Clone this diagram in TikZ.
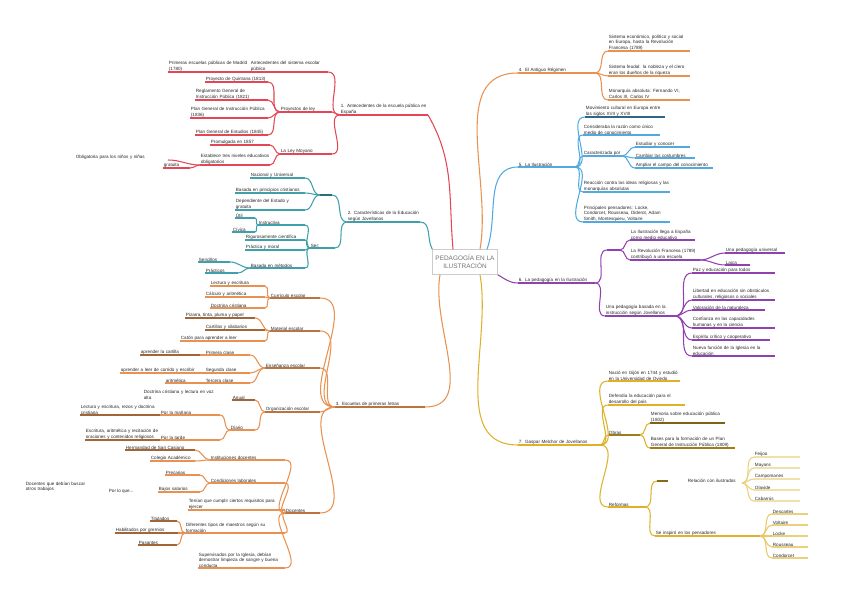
\documentclass[tikz,border=0pt]{standalone}
\usepackage{fontspec}
\setmainfont{Liberation Sans}
\definecolor{cRed}{RGB}{228,70,86}
\definecolor{cTeal}{RGB}{62,160,170}
\definecolor{cOr}{RGB}{232,145,80}
\definecolor{cBlue}{RGB}{80,170,225}
\definecolor{cPur}{RGB}{145,65,175}
\definecolor{cYel}{RGB}{222,178,40}
\hyphenpenalty=10000 \exhyphenpenalty=10000
\newcommand\nd[6]{%
 \coordinate (#1-l) at (#2,#4); \coordinate (#1-r) at (#3,#4);
 \pgfmathsetmacro\mytw{max((#3-#2)*0.853-1,1)}
 \node[lbl,text width=\mytw pt,anchor=south west] (#1) at (#2,#4) {#6};
 \draw[ul,#5] (#1-l) -- (#1-r);}
\newcommand\tx[6]{%
 \coordinate (#1-l) at (#2,#4); \coordinate (#1-r) at (#3,#4);
 \pgfmathsetmacro\mytw{max((#3-#2)*0.853-1,1)}
 \node[lbl,text width=\mytw pt,anchor=south west] (#1) at (#2,#4) {#6};}
\newcommand\cR[3]{\draw[cn,#3] (#1-r) to[out=0,in=180] (#2-l);}
\newcommand\cL[3]{\draw[cn,#3] (#1-l) to[out=180,in=0] (#2-r);}
\begin{document}
\hyphenpenalty=10000 \exhyphenpenalty=10000
\begin{tikzpicture}[x=0.03cm,y=-0.03cm,
 lbl/.style={font=\fontsize{3.9}{4.7}\selectfont,inner sep=0.6pt,align=left,text=black!85},
 ul/.style={line width=0.9pt},
 cn/.style={line width=0.9pt}]
\useasboundingbox (0,0) rectangle (848,599);
\fill[white] (0,0) rectangle (848,599);
% center
\node[draw=black!20,fill=white,text=black!55,minimum width=65*0.853pt,minimum height=25*0.853pt,align=center,font=\fontsize{5.5}{6.5}\selectfont,inner sep=1pt] (c) at (465,262) {PEDAGOGÍA EN LA\\ILUSTRACIÓN};
% ---------- RED
\nd{m1}{340}{428}{115}{cRed}{1. Antecedentes de la escuela pública en España}
\draw[cn,cRed] ([xshift=-12*0.853pt]c.north) to[out=95,in=-60] (m1-r);
\nd{r1}{250}{328}{72}{cRed}{Antecedentes del sistema escolar público}
\nd{r1a}{168}{250}{72}{cRed}{Primeras escuelas públicas de Madrid (1780)}
\nd{r2}{280}{332}{112}{cRed}{Proyectos de ley}
\nd{r2a}{205}{268}{82}{cRed}{Proyecto de Quintana (1813)}
\nd{r2b}{195}{268}{100}{cRed}{Reglamento General de Instrucción Pública (1821)}
\nd{r2c}{190}{268}{118}{cRed}{Plan General de Instrucción Pública (1836)}
\nd{r2d}{195}{268}{135}{cRed}{Plan General de Estudios (1845)}
\nd{r3}{280}{332}{154}{cRed}{La Ley Moyano}
\nd{r3a}{210}{270}{145}{cRed}{Promulgada en 1857}
\nd{r3b}{200}{270}{165}{cRed}{Establece tres niveles educativos obligatorios}
\tx{r3c}{75}{168}{160}{cRed}{Obligatoria para los niños y niñas}
\nd{r3d}{163}{190}{168}{cRed}{gratuita}
\foreach \k in {r1,r2,r3}{\cL{m1}{\k}{cRed}}
\cL{r1}{r1a}{cRed}
\foreach \k in {r2a,r2b,r2c,r2d}{\cL{r2}{\k}{cRed}}
\foreach \k in {r3a,r3b}{\cL{r3}{\k}{cRed}}
\foreach \k in {r3c,r3d}{\cL{r3b}{\k}{cRed}}
% ---------- TEAL
\nd{m2}{347}{420}{222}{cTeal}{2. Características de la Educación según Jovellanos}
\draw[cn,cTeal] (c.north west) to[out=120,in=0] (m2-r);
\nd{t1}{320}{332}{195}{cTeal!70!black}{}
\nd{t1a}{250}{305}{178}{cTeal}{Nacional y Universal}
\nd{t1b}{235}{305}{193}{cTeal}{Basada en principios cristianos}
\nd{t1c}{235}{305}{210}{cTeal}{Dependiente del Estado y gratuita}
\nd{t2}{310}{335}{248}{cTeal}{Ser:}
\nd{t2a}{258}{305}{225}{cTeal}{Instructiva}
\nd{t2a1}{235}{255}{218}{cTeal}{Útil}
\nd{t2a2}{232}{255}{232}{cTeal}{Cívica}
\nd{t2b}{245}{305}{240}{cTeal}{Rigurosamente científica}
\nd{t2c}{245}{305}{250}{cTeal}{Práctica y moral}
\nd{t2d}{250}{305}{268}{cTeal}{Basada en métodos}
\nd{t2d1}{198}{230}{262}{cTeal}{Sencillos}
\nd{t2d2}{205}{238}{273}{cTeal}{Prácticos}
\foreach \k in {t1,t2}{\cL{m2}{\k}{cTeal}}
\foreach \k in {t1a,t1b,t1c}{\cL{t1}{\k}{cTeal}}
\foreach \k in {t2a,t2b,t2c,t2d}{\cL{t2}{\k}{cTeal}}
\foreach \k in {t2a1,t2a2}{\cL{t2a}{\k}{cTeal}}
\foreach \k in {t2d1,t2d2}{\cL{t2d}{\k}{cTeal}}
% ---------- ORANGE LEFT
\nd{m3}{335}{425}{407}{cOr!80!black}{3. Escuelas de primeras letras}
\draw[cn,cOr] ([xshift=-25*0.853pt]c.south) to[out=-100,in=0] (m3-r);
\nd{o1}{270}{320}{298}{cOr!80!black}{Currículo escolar}
\nd{o1a}{210}{265}{286}{cOr}{Lectura y escritura}
\nd{o1b}{205}{265}{297}{cOr}{Cálculo y aritmética}
\nd{o1c}{210}{265}{308}{cOr}{Doctrina cristiana}
\nd{o2}{270}{320}{331}{cOr!80!black}{Material escolar}
\nd{o2a}{185}{255}{318}{cOr!70!black}{Pizarra, tinta, pluma y papel}
\nd{o2b}{205}{265}{330}{cOr!70!black}{Cartillas y silabarios}
\nd{o2c}{180}{265}{341}{cOr}{Catón para aprender a leer}
\nd{o3}{265}{320}{368}{cOr!80!black}{Enseñanza escolar}
\nd{o3a}{205}{250}{355}{cOr}{Primera clase}
\nd{o3a1}{140}{200}{355}{cOr!70!black}{aprender la cartilla}
\nd{o3b}{205}{250}{373}{cOr}{Segunda clase}
\nd{o3b1}{120}{200}{373}{cOr}{aprender a leer de corrido y escribir}
\nd{o3c}{205}{250}{383}{cOr}{Tercera clase}
\nd{o3c1}{165}{200}{383}{cOr}{aritmética}
\tx{o3t}{143}{215}{400}{cOr}{Doctrina cristiana y lectura en voz alta}
\nd{o4}{265}{320}{412}{cOr!80!black}{Organización escolar}
\nd{o4a}{232}{255}{400}{cOr!70!black}{Anual}
\nd{o4b}{230}{255}{430}{cOr}{Diario}
\nd{o4b1}{160}{220}{415}{cOr}{Por la mañana}
\nd{o4b1a}{80}{160}{415}{cOr!70!black}{Lectura y escritura, rezos y doctrina cristiana}
\nd{o4b2}{160}{220}{440}{cOr}{Por la tarde}
\nd{o4b2a}{85}{165}{440}{cOr!70!black}{Escritura, aritmética y recitación de oraciones y contenidos religiosos}
\nd{o5}{285}{320}{513}{cOr!80!black}{Docentes}
\nd{o5a}{210}{285}{460}{cOr}{Instituciones docentes}
\nd{o5a1}{125}{195}{450}{cOr!70!black}{Hermandad de San Casiano}
\nd{o5a2}{150}{195}{461}{cOr}{Colegio Académico}
\nd{o5b}{210}{285}{483}{cOr}{Condiciones laborales}
\nd{o5b1}{165}{200}{475}{cOr}{Precarias}
\nd{o5b2}{158}{200}{492}{cOr}{Bajos salarios}
\node[lbl,anchor=west] (o5t1) at (108,491) {Por lo que...};
\node[lbl,anchor=west,text width=55pt] (o5t2) at (25,487) {Docentes que debían buscar otros trabajos};
\nd{o5c}{188}{285}{510}{cOr}{Tenían que cumplir ciertos requisitos para ejercer}
\nd{o5d}{185}{285}{533}{cOr}{Diferentes tipos de maestros según su formación}
\nd{o5d1}{150}{177}{521}{cOr!70!black}{Titulados}
\nd{o5d2}{115}{178}{533}{cOr!70!black}{Habilitados por gremios}
\nd{o5d3}{138}{177}{545}{cOr!70!black}{Pasantes}
\nd{o5e}{198}{285}{568}{cOr}{Supervisados por la Iglesia, debían demostrar limpieza de sangre y buena conducta}
\foreach \k in {o1,o2,o3,o4,o5}{\cL{m3}{\k}{cOr}}
\foreach \k in {o1a,o1b,o1c}{\cL{o1}{\k}{cOr}}
\foreach \k in {o2a,o2b,o2c}{\cL{o2}{\k}{cOr}}
\foreach \k in {o3a,o3b,o3c}{\cL{o3}{\k}{cOr}}
\cL{o3a}{o3a1}{cOr}\cL{o3b}{o3b1}{cOr}\cL{o3c}{o3c1}{cOr}
\foreach \k in {o4a,o4b}{\cL{o4}{\k}{cOr}}
\foreach \k in {o4b1,o4b2}{\cL{o4b}{\k}{cOr}}
\cL{o4b1}{o4b1a}{cOr}\cL{o4b2}{o4b2a}{cOr}
\foreach \k in {o5a,o5b,o5c,o5d,o5e}{\cL{o5}{\k}{cOr}}
\foreach \k in {o5a1,o5a2}{\cL{o5a}{\k}{cOr}}
\foreach \k in {o5b1,o5b2}{\cL{o5b}{\k}{cOr}}
\foreach \k in {o5d1,o5d2,o5d3}{\cL{o5d}{\k}{cOr}}
% ---------- ORANGE RIGHT
\nd{m4}{518}{595}{73}{cOr}{4. El Antiguo Régimen}
\draw[cn,cOr] ([xshift=15*0.853pt]c.north) to[out=80,in=180] (m4-l);
\nd{a1}{608}{690}{51}{cOr}{Sistema económico, político y social en Europa, hasta la Revolución Francesa (1789)}
\nd{a2}{608}{690}{76}{cOr}{Sistema feudal: la nobleza y el clero eran los dueños de la riqueza}
\nd{a3}{608}{690}{100}{cOr}{Monarquía absoluta: Fernando VI, Carlos III, Carlos IV}
\foreach \k in {a1,a2,a3}{\cR{m4}{\k}{cOr}}
% ---------- BLUE
\nd{m5}{518}{575}{167}{cBlue}{5. La Ilustración}
\draw[cn,cBlue] ([xshift=22*0.853pt]c.north) to[out=70,in=180] (m5-l);
\nd{b1}{585}{665}{117}{cBlue!60!black}{Movimiento cultural en Europa entre los siglos XVII y XVIII}
\nd{b2}{583}{660}{135}{cBlue}{Consideraba la razón como único medio de conocimiento}
\nd{b3}{583}{622}{156}{cBlue}{Caracterizada por}
\nd{b3a}{635}{690}{147}{cBlue}{Estudiar y conocer}
\nd{b3b}{635}{695}{158}{cBlue}{Cambiar las costumbres}
\nd{b3c}{635}{713}{168}{cBlue}{Ampliar el campo del conocimiento}
\nd{b4}{583}{670}{192}{cBlue}{Reacción contra las ideas religiosas y las monarquías absolutas}
\nd{b5}{583}{670}{222}{cBlue}{Principales pensadores: Locke, Condorcet, Rousseau, Diderot, Adam Smith, Montesquieu, Voltaire}
\foreach \k in {b1,b2,b3,b4,b5}{\cR{m5}{\k}{cBlue}}
\foreach \k in {b3a,b3b,b3c}{\cR{b3}{\k}{cBlue}}
% ---------- PURPLE
\nd{m6}{518}{595}{283}{cPur}{6. La pedagogía en la Ilustración}
\draw[cn,cPur] (c.south east) to[out=-30,in=180] (m6-l);
\nd{p0}{607}{620}{250}{cPur}{}
\nd{p1}{630}{695}{240}{cPur}{La Ilustración llega a España como medio educativo}
\nd{p2}{630}{700}{260}{cPur}{La Revolución Francesa (1789) contribuyó a una escuela}
\nd{p2a}{725}{785}{253}{cPur}{Una pedagogía universal}
\nd{p2b}{725}{750}{265}{cPur}{Laica}
\nd{p3}{605}{675}{316}{cPur}{Una pedagogía basada en la instrucción según Jovellanos}
\nd{q1}{692}{775}{273}{cPur}{Paz y educación para todos}
\nd{q2}{692}{775}{300}{cPur}{Libertad en educación sin obstáculos culturales, religiosos o sociales}
\nd{q3}{692}{765}{310}{cPur}{Valoración de la naturaleza}
\nd{q4}{692}{775}{328}{cPur}{Confianza en las capacidades humanas y en la ciencia}
\nd{q5}{692}{770}{340}{cPur}{Espíritu crítico y cooperativo}
\nd{q6}{692}{775}{356}{cPur}{Nueva función de la Iglesia en la educación}
\foreach \k in {p0,p3}{\cR{m6}{\k}{cPur}}
\foreach \k in {p1,p2}{\cR{p0}{\k}{cPur}}
\foreach \k in {p2a,p2b}{\cR{p2}{\k}{cPur}}
\foreach \k in {q1,q2,q3,q4,q5,q6}{\cR{p3}{\k}{cPur}}
% ---------- YELLOW
\nd{m7}{518}{600}{445}{cYel}{7. Gaspar Melchor de Jovellanos}
\draw[cn,cYel] ([xshift=15*0.853pt]c.south) to[out=-80,in=180] (m7-l);
\nd{y1}{608}{680}{381}{cYel}{Nació en Gijón en 1744 y estudió en la Universidad de Oviedo}
\nd{y2}{608}{685}{405}{cYel}{Defendía la educación para el desarrollo del país}
\nd{y3}{608}{640}{435}{cYel!70!black}{Obras}
\nd{y3a}{650}{725}{423}{cYel!55!black}{Memoria sobre educación pública (1802)}
\nd{y3b}{650}{735}{448}{cYel!70!black}{Bases para la formación de un Plan General de Instrucción Pública (1809)}
\nd{y4}{608}{645}{507}{cYel}{Reformas}
\nd{y4a}{657}{668}{481}{cYel!60!black}{}
\tx{y4b}{687}{742}{483}{cYel}{Relación con ilustrados}
\nd{y5}{655}{760}{536}{cYel}{Se inspiró en los pensadores}
\foreach \k in {y1,y2,y3,y4}{\cR{m7}{\k}{cYel}}
\foreach \k in {y3a,y3b}{\cR{y3}{\k}{cYel}}
\foreach \k in {y4a,y5}{\cR{y4}{\k}{cYel}}
\foreach \n/\t [count=\i] in {Feijoo,Mayans,Campomanes,Olavide,Cabarrús}{
 \nd{yy\i}{754}{800}{457+11*\i-11}{cYel!40}{\t}
 \draw[cn,cYel!60] (y4b-r) to[out=0,in=180] (yy\i-l);}
\foreach \n/\t [count=\i] in {Descartes,Voltaire,Locke,Rousseau,Condorcet}{
 \nd{yz\i}{772}{808}{514+11*\i-11}{cYel!60}{\t}
 \draw[cn,cYel!70] (y5-r) to[out=0,in=180] (yz\i-l);}
\end{tikzpicture}
\end{document}
